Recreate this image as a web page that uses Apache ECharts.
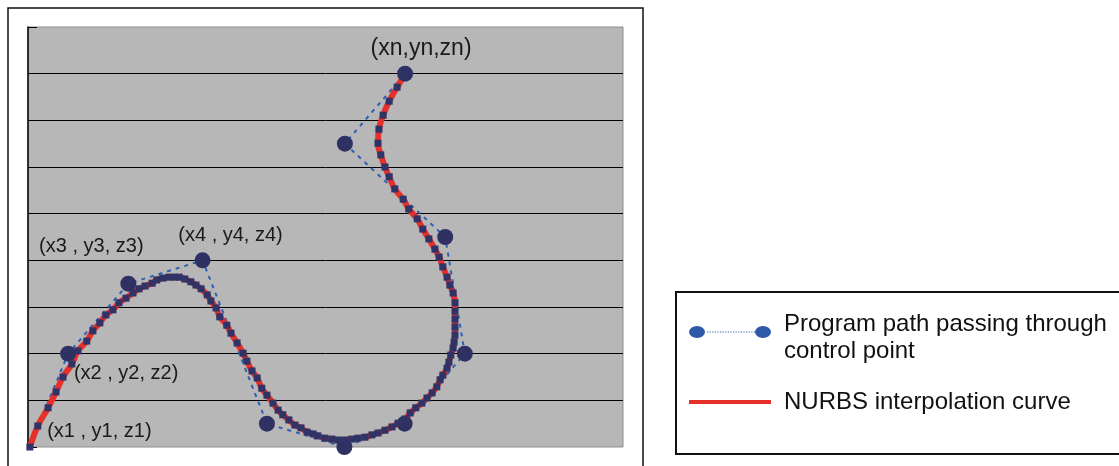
<!DOCTYPE html>
<html>
<head>
<meta charset="utf-8">
<script src="https://cdn.jsdelivr.net/npm/echarts@6/dist/echarts.min.js"></script>
<style>
  html, body { margin: 0; padding: 0; background: #fff; }
  #chart { width: 1119px; height: 466px; }
</style>
</head>
<body>
<div id="chart"></div>
<script>
// control points of the programmed path
const ctrlX = [0.3, 8.6, 21.5, 37.4, 51.2, 67.8, 80.7, 93.6, 89.4, 67.9, 80.8];
const ctrlY = [0, 20, 35, 40, 5, 0, 5, 20, 45, 65, 80];
const ctrlLabels = ['(x1 , y1, z1)', '(x2 , y2, z2)', '(x3 , y3, z3)', '(x4 , y4, z4)',
  '', '', '', '', '', '', '(xn,yn,zn)'];

// sampled points of the NURBS curve
const curveX = [0.4, 2.1, 4.3, 6.0, 7.5, 9.4, 10.7, 12.6, 13.9, 15.4, 16.7, 18.2, 19.5, 21.0,
  22.5, 23.8, 25.1, 26.6, 27.6, 28.9, 30.2, 31.3, 32.4, 33.6, 34.9, 36.0, 37.1, 38.4, 39.2,
  40.3, 41.1, 42.6, 43.5, 44.8, 46.1, 46.9, 48.0, 49.1, 50.1, 51.2, 52.5, 53.6, 54.6, 55.9,
  57.2, 58.5, 59.8, 61.1, 62.1, 63.6, 65.1, 66.4, 67.9, 69.4, 70.7, 72.2, 73.7, 75.0, 76.5,
  78.0, 79.3, 80.8, 81.9, 83.1, 84.4, 85.5, 86.6, 87.6, 88.3, 88.9, 89.8, 90.2, 90.6, 91.1,
  91.3, 91.5, 91.5, 91.5, 91.5, 91.5, 91.1, 90.4, 89.8, 88.9, 88.1, 87.2, 85.9, 84.6, 83.4,
  81.6, 80.4, 78.6, 77.4, 76.5, 75.6, 75.0, 75.2, 76.1, 77.4, 79.1, 80.8];
const curveY = [0, 4.5, 8.4, 11.8, 15.0, 17.8, 20.6, 22.7, 24.9, 26.6, 28.3, 29.4, 30.9, 31.9,
  33.0, 33.9, 34.5, 35.1, 35.8, 36.2, 36.4, 36.4, 36.4, 36.0, 35.4, 34.7, 33.9, 32.6, 31.3,
  29.8, 27.9, 26.1, 24.4, 22.3, 20.1, 18.4, 16.3, 14.8, 12.6, 11.1, 9.4, 7.9, 6.9, 5.8,
  4.7, 4.1, 3.2, 2.8, 2.4, 1.9, 1.7, 1.5, 1.5, 1.7, 1.9, 2.1, 2.6, 3.0, 3.6,
  4.3, 5.1, 6.0, 7.3, 8.4, 9.4, 10.5, 11.6, 12.9, 14.4, 15.4, 16.9, 18.2, 19.7, 21.2,
  22.5, 24.0, 25.7, 27.4, 29.1, 30.9, 33.0, 34.7, 36.4, 38.6, 40.7, 42.4, 44.6, 46.7, 48.9,
  51.0, 53.1, 55.3, 57.9, 60.0, 62.6, 65.1, 68.1, 71.1, 74.1, 77.1, 79.9];

const pathName = 'Program path passing through\ncontrol point';
const curveName = 'NURBS interpolation curve';

const font = 'Liberation Sans, Arial, sans-serif';
const labelOffsets = [[70, -16], [58, 20], [-37, -37], [28, -25], [0, 0], [0, 0], [0, 0],
  [0, 0], [0, 0], [0, 0], [16, -25]];

// legend icons
let dots = '';
for (let x = 18; x < 65; x += 2.6) {
  dots += 'M' + x.toFixed(1) + ' 5.4h1.2v1.2h-1.2z';
}
const pathIcon = 'path://M0 6A8 6 0 1 0 16 6A8 6 0 1 0 0 6Z' +
  'M66 6A8 6 0 1 0 82 6A8 6 0 1 0 66 6Z' + dots +
  'M0 0L0.01 0L0 0.01Z M90 24L89.99 24L90 23.99Z';
const lineIcon = 'path://M0 9.5H82V13.5H0Z M0 0L0.01 0L0 0.01Z M90 24L89.99 24L90 23.99Z';

const chart = echarts.init(document.getElementById('chart'));
const option = {
  animation: false,
  backgroundColor: '#fff',
  grid: {
    left: 28, top: 27, width: 595, height: 420,
    show: true, backgroundColor: '#b7b7b8', borderColor: '#8e8e8e', borderWidth: 1
  },
  xAxis: {
    type: 'value', min: 0, max: 127.5,
    axisLine: { show: false }, axisTick: { show: false },
    axisLabel: { show: false }, splitLine: { show: false }
  },
  yAxis: {
    type: 'value', min: 0, max: 90, interval: 10,
    axisLine: { show: true, lineStyle: { color: '#000', width: 1.5 } },
    axisTick: { show: true, inside: true, length: 9, lineStyle: { color: '#000' } },
    axisLabel: { show: false },
    splitLine: { show: true, showMinLine: false, showMaxLine: false, lineStyle: { color: '#000', width: 1 } }
  },
  legend: {
    orient: 'vertical', left: 689, top: 311, padding: 0,
    itemWidth: 90, itemHeight: 24, itemGap: 24,
    textStyle: { fontFamily: font, fontSize: 24, color: '#111', lineHeight: 27 },
    data: [
      { name: pathName, icon: pathIcon, itemStyle: { color: '#2d5aa8', borderWidth: 0 } },
      { name: curveName, icon: lineIcon, itemStyle: { color: '#e8302a', borderWidth: 0 } }
    ]
  },
  graphic: [
    { type: 'rect', shape: { x: 8, y: 8, width: 635, height: 480 },
      style: { fill: 'none', stroke: '#111', lineWidth: 1.5 }, silent: true },
    { type: 'rect', shape: { x: 676, y: 292, width: 470, height: 162 },
      style: { fill: 'none', stroke: '#111', lineWidth: 2 }, silent: true }
  ],
  series: [
    {
      name: pathName,
      type: 'line',
      clip: false,
      symbol: 'circle',
      symbolSize: (v, p) => (p.dataIndex === 0 ? 0 : 16),
      itemStyle: { color: '#2e3162' },
      lineStyle: { color: '#2f5fb3', width: 2, type: [4, 5] },
      label: {
        show: true, position: 'inside', fontFamily: font, fontSize: 20, color: '#1a1a1a',
        align: 'center', verticalAlign: 'middle'
      },
      data: ctrlX.map((x, i) => ({
        value: [x, ctrlY[i]],
        label: {
          show: ctrlLabels[i] !== '',
          formatter: ctrlLabels[i],
          offset: labelOffsets[i],
          fontSize: i === ctrlX.length - 1 ? 23 : 20
        }
      }))
    },
    {
      name: curveName,
      type: 'line',
      clip: false,
      smooth: 0.4,
      symbol: 'rect',
      symbolSize: 7,
      showAllSymbol: true,
      itemStyle: { color: '#2f3366' },
      lineStyle: { color: '#e8302a', width: 6 },
      data: curveX.map((x, i) => [x, curveY[i]])
    }
  ]
};
chart.setOption(option);
</script>
</body>
</html>
